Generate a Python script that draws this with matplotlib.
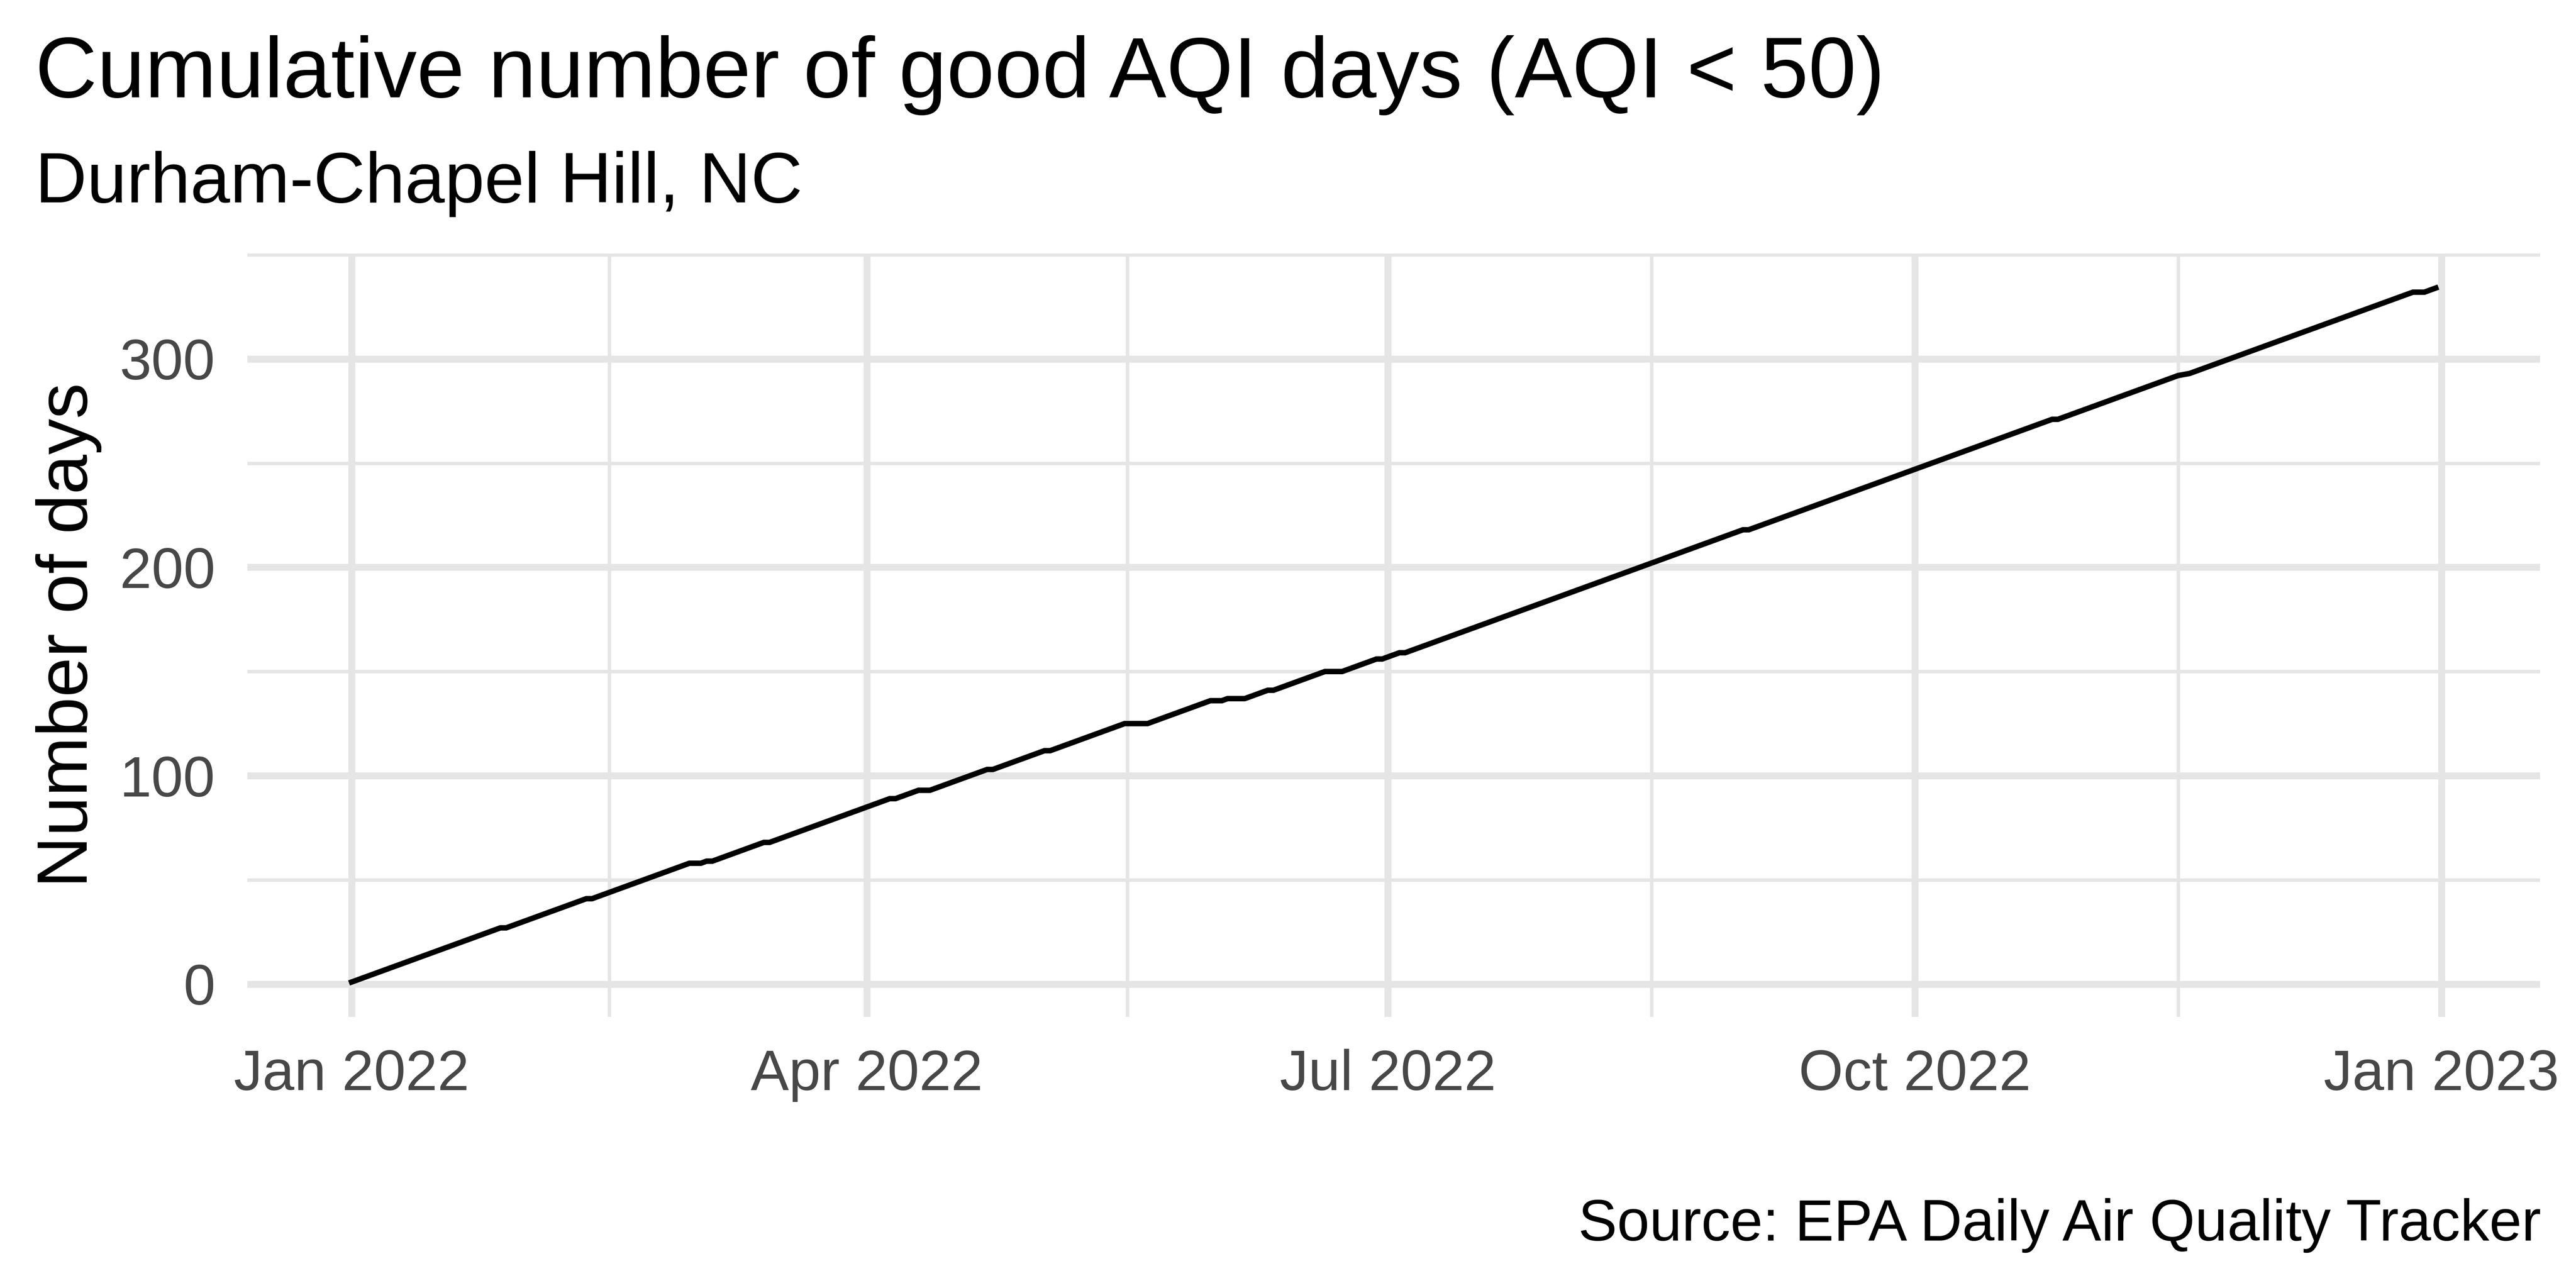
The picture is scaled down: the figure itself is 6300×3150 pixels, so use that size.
import numpy as np
import matplotlib
matplotlib.use("Agg")
import matplotlib.pyplot as plt
import matplotlib.dates as mdates

plt.rcParams['font.family'] = ['Liberation Sans', 'DejaVu Sans']

# vertices of the cumulative line (flat stretches = days that were not "good")
dates = ["2022-01-01", "2022-01-27", "2022-01-28", "2022-02-11", "2022-02-12",
         "2022-03-01", "2022-03-03", "2022-03-04", "2022-03-05", "2022-03-14",
         "2022-03-15", "2022-04-05", "2022-04-06", "2022-04-10", "2022-04-12",
         "2022-04-22", "2022-04-23", "2022-05-02", "2022-05-03", "2022-05-16",
         "2022-05-20", "2022-05-31", "2022-06-02", "2022-06-03", "2022-06-06",
         "2022-06-10", "2022-06-11", "2022-06-20", "2022-06-23", "2022-06-29",
         "2022-06-30", "2022-07-03", "2022-07-04", "2022-09-01", "2022-09-02",
         "2022-10-25", "2022-10-26", "2022-11-16", "2022-11-18", "2022-12-27",
         "2022-12-29", "2022-12-31"]
good_days = [1, 27, 27, 41, 41,
             58, 58, 59, 59, 68,
             68, 89, 89, 93, 93,
             103, 103, 112, 112, 125,
             125, 136, 136, 137, 137,
             141, 141, 150, 150, 156,
             156, 159, 159, 218, 218,
             271, 271, 292, 293, 332,
             332, 334]

x_breaks = ["2022-01-01", "2022-04-01", "2022-07-01", "2022-10-01", "2023-01-01"]
x_labels = ["Jan 2022", "Apr 2022", "Jul 2022", "Oct 2022", "Jan 2023"]
y_breaks = [0, 100, 200, 300]
y_minor = [50, 150, 250, 350]

title = "Cumulative number of good AQI days (AQI < 50)"
subtitle = "Durham-Chapel Hill, NC"
caption = "Source: EPA Daily Air Quality Tracker"

W, H = 6300, 3150
fig = plt.figure(figsize=(7, 3.5), dpi=900)
ax = fig.add_axes([605 / W, 1 - 2486.6 / H, (6212 - 605) / W, (2486.6 - 619.5) / H])

x = np.array(dates, dtype="datetime64[D]")
ax.plot(x, good_days, color="black", lw=1.07, solid_joinstyle="miter", zorder=3)

ax.margins(x=0.05, y=0.05)

major = mdates.date2num(np.array(x_breaks, dtype="datetime64[D]"))
ax.set_xticks(major)
ax.set_xticklabels(x_labels)
ax.set_xticks((major[:-1] + major[1:]) / 2, minor=True)
ax.set_yticks(y_breaks)
ax.set_yticks(y_minor, minor=True)

grid_col = "#E5E5E5"
ax.grid(True, which="major", color=grid_col, lw=1.36)
ax.grid(True, which="minor", color=grid_col, lw=0.68)
ax.set_axisbelow(True)
for s in ax.spines.values():
    s.set_visible(False)

ax.tick_params(which="both", length=0)
ax.tick_params(which="major", pad=6.3, labelsize=11.2, labelcolor="#474747")
ax.set_ylabel("Number of days", fontsize=14, labelpad=3.5, color="black")

fig.text(86 / W, 1 - 238 / H, title, fontsize=16.8, ha="left", va="baseline")
fig.text(86 / W, 1 - 494.6 / H, subtitle, fontsize=14, ha="left", va="baseline")
fig.text(6214 / W, 1 - 3034 / H, caption, fontsize=11.4, ha="right", va="baseline")

fig.savefig("out.png", dpi=900, facecolor="white")
